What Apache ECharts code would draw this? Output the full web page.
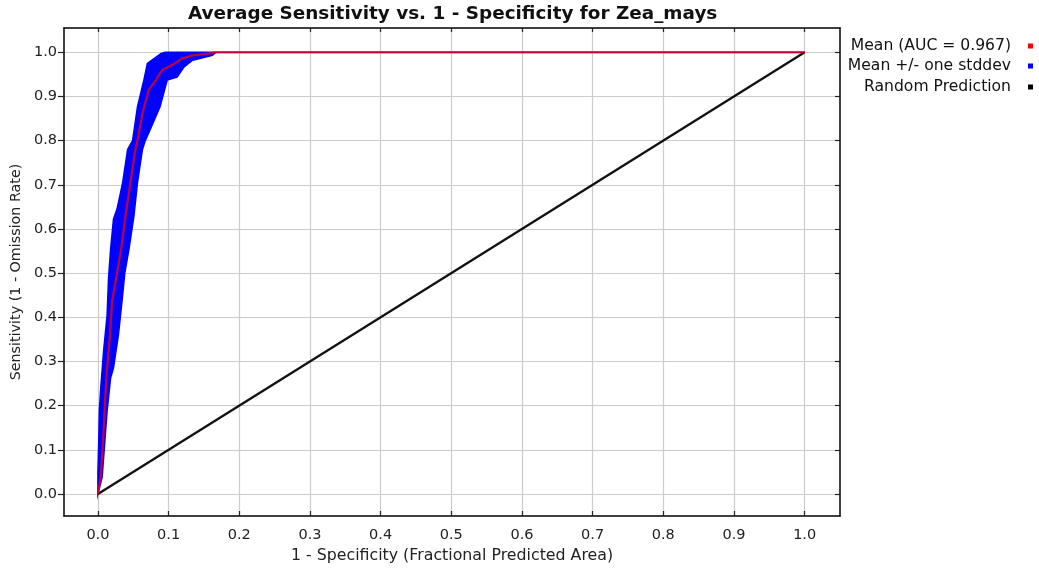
<!DOCTYPE html>
<html>
<head>
<meta charset="utf-8">
<title>Average Sensitivity vs. 1 - Specificity for Zea_mays</title>
<script src="https://cdn.jsdelivr.net/npm/echarts@6/dist/echarts.min.js"></script>
<style>
  html, body { margin: 0; padding: 0; background: #fff; }
  #chart { width: 1039px; height: 569px; }
</style>
</head>
<body>
<div id="chart"></div>
<script>
const tickValues = [0, 0.1, 0.2, 0.3, 0.4, 0.5, 0.6, 0.7, 0.8, 0.9, 1.0];

// mean ROC curve (red)
const meanX = [0, 0.004, 0.007, 0.0095, 0.011, 0.013, 0.017, 0.020, 0.027, 0.033, 0.039, 0.046, 0.053, 0.056, 0.063, 0.072, 0.082, 0.091, 0.105, 0.119, 0.134, 0.162, 0.167, 1.0];
const meanY = [0, 0.038, 0.113, 0.188, 0.24, 0.285, 0.36, 0.435, 0.50, 0.555, 0.63, 0.705, 0.78, 0.80, 0.862, 0.915, 0.937, 0.96, 0.971, 0.986, 0.993, 0.998, 1.0, 1.0];

// mean + stddev (left edge of the blue band)
const upperX = [0, 0, 0.001, 0.002, 0.004, 0.008, 0.013, 0.015, 0.018, 0.022, 0.027, 0.035, 0.042, 0.049, 0.056, 0.065, 0.070, 0.089, 0.095, 1.0];
const upperY = [0, 0.05, 0.11, 0.188, 0.24, 0.323, 0.405, 0.488, 0.555, 0.622, 0.645, 0.705, 0.78, 0.80, 0.877, 0.937, 0.975, 0.997, 1.0, 1.0];

// mean - stddev (right edge of the blue band)
const lowerX = [0, 0.006, 0.0095, 0.013, 0.018, 0.022, 0.029, 0.034, 0.038, 0.044, 0.051, 0.056, 0.063, 0.067, 0.078, 0.088, 0.093, 0.098, 0.112, 0.122, 0.134, 0.162, 0.167, 1.0];
const lowerY = [0, 0.038, 0.113, 0.188, 0.263, 0.285, 0.36, 0.435, 0.50, 0.555, 0.63, 0.705, 0.78, 0.80, 0.84, 0.877, 0.907, 0.937, 0.944, 0.967, 0.982, 0.993, 1.0, 1.0];

const randomX = [0, 1];
const randomY = [0, 1];

const seriesNames = ['Mean (AUC = 0.967)', 'Mean +/- one stddev', 'Random Prediction'];

(function () {
  const font = 'DejaVu Sans';
  const zip = (xs, ys) => xs.map((x, i) => [x, ys[i]]);

  // band outline: up along the upper edge, back down along the lower edge
  const bandPoints = zip(upperX, upperY).concat(zip(lowerX, lowerY).reverse());

  const fmt = (v) => Number(v).toFixed(1);

  const axisLine = { show: true, onZero: false, lineStyle: { color: '#000', width: 1.5 } };
  const tickStyle = { color: '#222', width: 1.2 };
  const xRange = { min: -0.048, max: 1.05 };
  const yRange = { min: -0.05, max: 1.055 };

  const legendBase = {
    orient: 'vertical',
    align: 'right',
    right: 6,
    padding: 0,
    icon: 'rect',
    itemWidth: 5,
    itemHeight: 5,
    selectedMode: false,
    textStyle: { fontFamily: font, fontSize: 15.6, color: '#111', padding: [0, 12, 0, 0] },
  };

  const option = {
    animation: false,
    backgroundColor: '#fff',
    title: {
      text: 'Average Sensitivity vs. 1 - Specificity for Zea_mays',
      left: 188,
      top: 5,
      padding: 0,
      textStyle: { fontFamily: font, fontSize: 18.4, fontWeight: 'bold', color: '#111' },
    },
    legend: [
      Object.assign({}, legendBase, { top: 38, data: [seriesNames[0]] }),
      Object.assign({}, legendBase, { top: 58, data: [seriesNames[1]] }),
      Object.assign({}, legendBase, { top: 79, data: [seriesNames[2]] }),
    ],
    grid: { left: 64, right: 199, top: 28, bottom: 50, containLabel: false },
    xAxis: [
      Object.assign({
        type: 'value',
        position: 'bottom',
        name: '1 - Specificity (Fractional Predicted Area)',
        nameLocation: 'middle',
        nameGap: 32,
        nameTextStyle: { fontFamily: font, fontSize: 15.8, color: '#222' },
        axisLine,
        axisTick: { show: true, inside: true, length: 5, customValues: tickValues, lineStyle: tickStyle },
        axisLabel: { customValues: tickValues, formatter: fmt, margin: 12, fontFamily: font, fontSize: 14.5, color: '#222' },
        splitLine: { show: true, lineStyle: { color: '#cccccc', width: 1.2 } },
      }, xRange),
      Object.assign({
        type: 'value',
        position: 'top',
        axisLine,
        axisTick: { show: true, inside: true, length: 4, customValues: tickValues, lineStyle: tickStyle },
        axisLabel: { show: false },
        splitLine: { show: false },
      }, xRange),
    ],
    yAxis: [
      Object.assign({
        type: 'value',
        position: 'left',
        name: 'Sensitivity (1 - Omission Rate)',
        nameLocation: 'middle',
        nameGap: 34,
        nameTextStyle: { fontFamily: font, fontSize: 14.3, color: '#222' },
        axisLine,
        axisTick: { show: true, inside: false, length: 6, customValues: tickValues, lineStyle: tickStyle },
        axisLabel: { customValues: tickValues, formatter: fmt, margin: 7, fontFamily: font, fontSize: 14.5, color: '#222' },
        splitLine: { show: true, lineStyle: { color: '#cccccc', width: 1.2 } },
      }, yRange),
      Object.assign({
        type: 'value',
        position: 'right',
        axisLine,
        axisTick: { show: true, inside: true, length: 5, customValues: tickValues, lineStyle: tickStyle },
        axisLabel: { show: false },
        splitLine: { show: false },
      }, yRange),
    ],
    series: [
      {
        name: seriesNames[1],
        type: 'custom',
        xAxisIndex: 0,
        yAxisIndex: 0,
        z: 2,
        itemStyle: { color: '#0000ff' },
        encode: { x: 0, y: 1 },
        data: bandPoints,
        renderItem: (params, api) => {
          if (params.dataIndex !== 0) return null;
          const pts = bandPoints.map((p) => api.coord(p));
          return {
            type: 'polygon',
            shape: { points: pts },
            style: { fill: '#0000ff', stroke: '#0000ff', lineWidth: 1.5 },
          };
        },
      },
      {
        name: seriesNames[2],
        type: 'line',
        z: 3,
        symbol: 'none',
        itemStyle: { color: '#000' },
        lineStyle: { color: '#111', width: 2.3 },
        data: zip(randomX, randomY),
      },
      {
        name: seriesNames[0],
        type: 'line',
        z: 4,
        symbol: 'none',
        itemStyle: { color: '#ff0000' },
        lineStyle: { color: 'rgba(255,0,0,0.75)', width: 2.2 },
        data: zip(meanX, meanY),
      },
    ],
  };

  const chart = echarts.init(document.getElementById('chart'), null, { renderer: 'canvas' });
  chart.setOption(option);
})();
</script>
</body>
</html>
